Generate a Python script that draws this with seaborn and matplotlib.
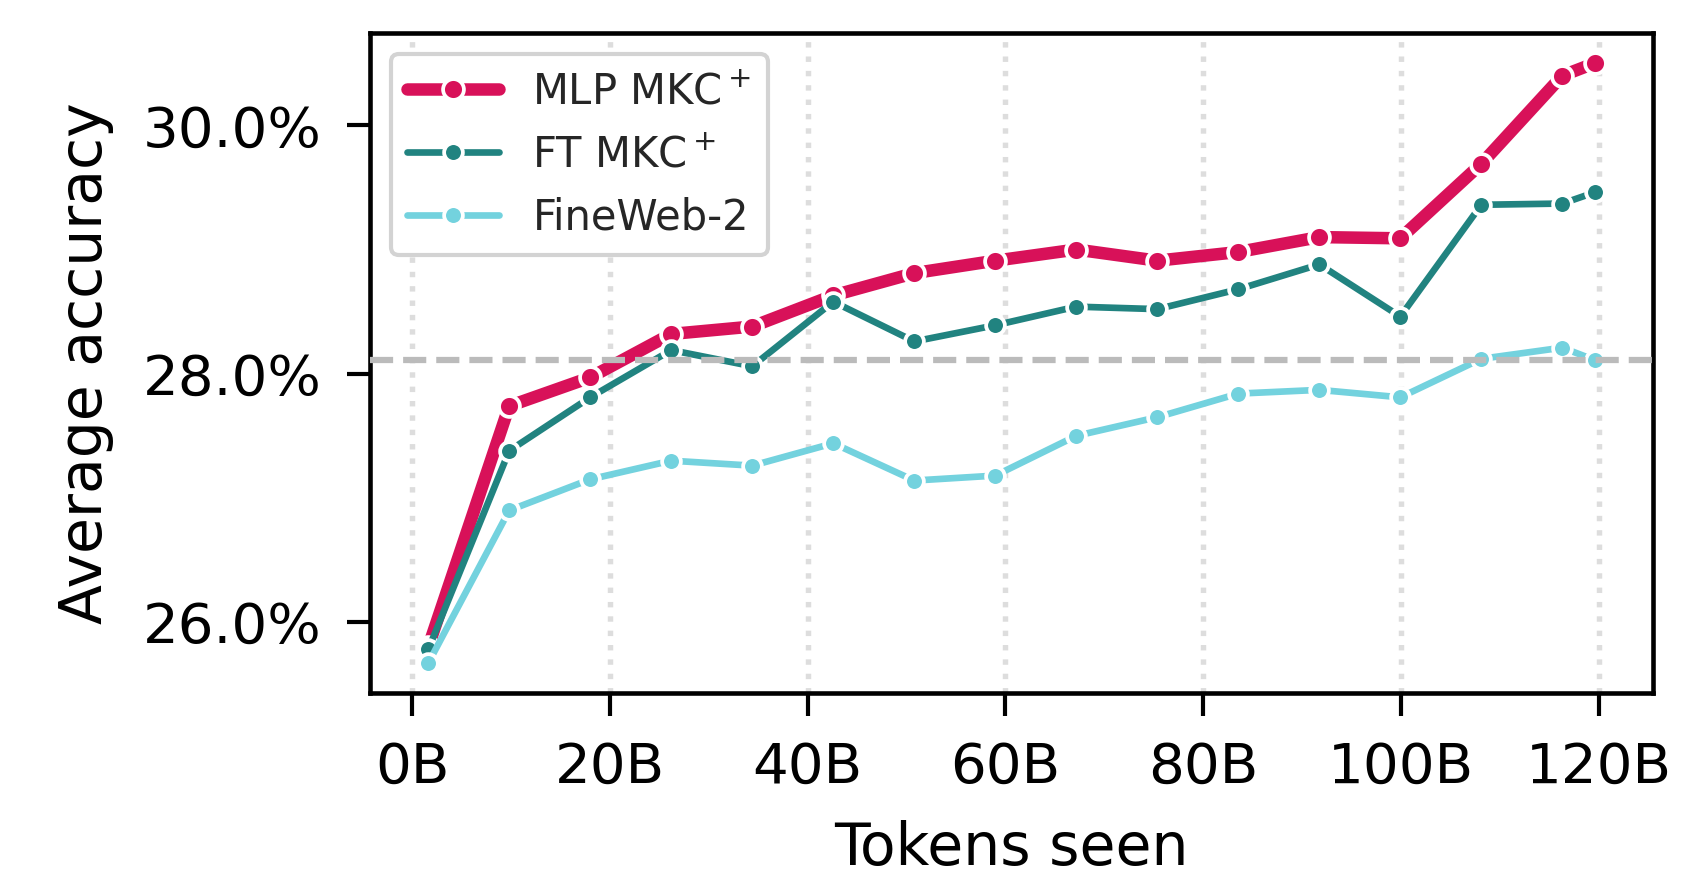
import matplotlib
matplotlib.use("Agg")
import matplotlib.pyplot as plt
import seaborn as sns
from matplotlib.ticker import PercentFormatter, FuncFormatter

# Datos (tokens en miles de millones, precision en %)
tokens = [1.64, 9.83, 18.02, 26.21, 34.41, 42.60, 50.79, 58.98,
          67.17, 75.37, 83.56, 91.75, 99.94, 108.13, 116.33, 119.6]
mlp_mkc = [25.80, 27.74, 27.97, 28.32, 28.38, 28.63, 28.81, 28.91,
           29.00, 28.91, 28.98, 29.10, 29.09, 29.69, 30.40, 30.50]
ft_mkc = [25.78, 27.38, 27.81, 28.19, 28.06, 28.58, 28.26, 28.39,
          28.54, 28.52, 28.68, 28.88, 28.46, 29.36, 29.37, 29.46]
fineweb2 = [25.67, 26.90, 27.15, 27.30, 27.26, 27.44, 27.14, 27.18,
            27.50, 27.65, 27.84, 27.87, 27.81, 28.12, 28.21, 28.11]
baseline = fineweb2[-1]

series = [
    ("MLP MKC$^+$", mlp_mkc, "#D81159", 3.0, 5.0),
    ("FT MKC$^+$", ft_mkc, "#218380", 1.6, 4.5),
    ("FineWeb-2", fineweb2, "#73D2DE", 1.6, 4.5),
]

sns.set_theme(style="ticks")
plt.rcParams["font.family"] = ["DejaVu Sans"]
plt.rcParams["axes.edgecolor"] = "black"
plt.rcParams["xtick.color"] = "black"
plt.rcParams["ytick.color"] = "black"

fig, ax = plt.subplots(figsize=(1693 / 300, 873 / 300), dpi=300)
fig.subplots_adjust(left=0.2185, right=0.9764, top=0.962, bottom=0.206)

for label, values, color, lw, ms in series:
    sns.lineplot(x=tokens, y=values, ax=ax, label=label, color=color,
                 linewidth=lw, marker="o", markersize=ms,
                 markeredgecolor="white", markeredgewidth=0.9, zorder=2)

ax.axhline(baseline, color="#BBBBBB", linestyle="--", linewidth=1.5, zorder=3)

# Solo rejilla vertical punteada
ax.grid(axis="x", linestyle=":", color="#DDDDDD", linewidth=1.3)
ax.set_axisbelow(True)

ax.set_xticks([0, 20, 40, 60, 80, 100, 120])
ax.xaxis.set_major_formatter(FuncFormatter(lambda v, p: f"{v:.0f}B"))
ax.set_yticks([26, 28, 30])
ax.yaxis.set_major_formatter(PercentFormatter(xmax=100, decimals=1))

ax.tick_params(axis="both", labelsize=13.5, length=5.5, width=1.0,
               color="black", pad=6)
ax.set_xlabel("Tokens seen", fontsize=14, color="black", labelpad=6)
ax.set_ylabel("Average accuracy", fontsize=14, color="black", labelpad=7)

for spine in ax.spines.values():
    spine.set_linewidth(1.1)
    spine.set_color("black")

leg = ax.legend(loc="upper left", fontsize=10, frameon=True, fancybox=True,
                framealpha=1, edgecolor="#D3D3D3", handlelength=2.2)
leg.get_frame().set_linewidth(1.0)

plt.savefig("out.png", dpi=300)
